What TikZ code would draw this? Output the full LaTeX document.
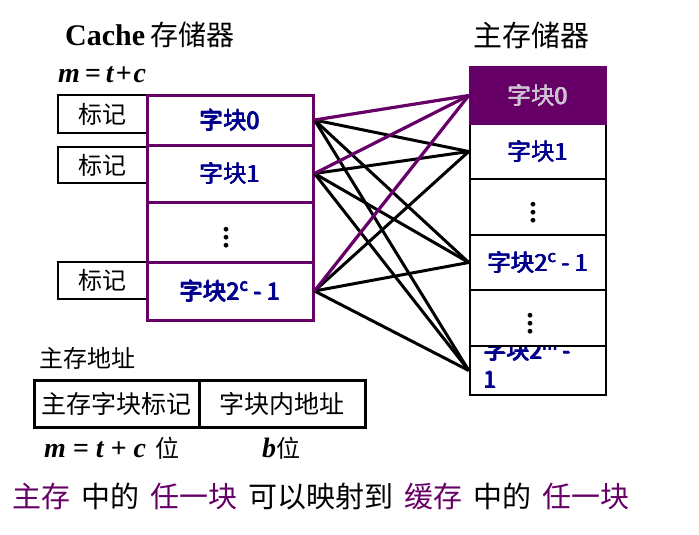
\documentclass[tikz,border=0pt]{standalone}
\usepackage{fontspec}
\setmainfont{Liberation Serif}
\newfontfamily\cjk{Noto Sans CJK SC}
\definecolor{cpurple}{RGB}{102,0,102}
\definecolor{cblue}{RGB}{0,0,140}
\definecolor{clight}{RGB}{205,195,210}
\newcommand{\bigdots}{\scalebox{2}{$\vdots$}}
\newcommand{\notegap}{\hspace{11pt}}
\newcommand{\heavy}[1]{\leavevmode\rlap{\kern.8pt#1}\rlap{\kern.4pt\raisebox{.5pt}{#1}}\rlap{\kern.4pt\raisebox{-.4pt}{#1}}#1\kern.8pt}

\begin{document}
\begin{tikzpicture}
        [x=1pt,y=-1pt,
         tagbox/.style={draw,line width=2.5pt,minimum width=89pt,inner sep=0,font=\cjk\fontsize{24}{26}\selectfont},
         cblk/.style={draw=cpurple,line width=3pt,fill=white,minimum width=166pt,inner sep=0,text=cblue,font=\cjk\fontsize{23.5}{26}\selectfont},
         mblk/.style={draw,line width=2.5pt,fill=white,minimum width=136pt,inner sep=0,text=cblue,font=\cjk\fontsize{23.5}{26}\selectfont},
         dots/.style={text=black,font=\fontsize{20}{22}\selectfont},
         addr/.style={draw,line width=3pt,minimum height=47pt,inner sep=0,font=\cjk\fontsize{25}{27}\selectfont},
         txt/.style={inner sep=0,font=\cjk\fontsize{24}{26}\selectfont},
         blk/.style={line width=3pt},
         hit/.style={cpurple,line width=3.2pt}]

        \useasboundingbox (0,0) rectangle (699,535);

        % titles
        \node[txt,anchor=west] (title) at (65,35) {{\rmfamily\bfseries\fontsize{30}{32}\selectfont Cache} \fontsize{28}{30}\selectfont 存储器};
        \node[txt,anchor=west] (mtc) at (58,75) {\rmfamily\bfseries\itshape\fontsize{28}{30}\selectfont m\kern5pt=\kern5pt t\kern2pt+\kern2pt c};
        \node[txt,font=\cjk\fontsize{29}{31}\selectfont] (mtitle) at (531,35) {主存储器};

        % tags
        \node[tagbox,minimum height=38pt] (t0) at (102.5,114) {标记};
        \node[tagbox,minimum height=36pt] (t1) at (102.5,165) {标记};
        \node[tagbox,minimum height=37pt] (t3) at (102.5,280.5) {标记};

        % cache blocks
        \node[cblk,minimum height=50pt] (c0) at (230,120) {\heavy{字块0}};
        \node[cblk,minimum height=57pt] (c1) at (230,173.5) {\heavy{字块1}};
        \node[cblk,minimum height=60pt,dots] (c2) at (230,232) {\hspace{-8pt}\bigdots};
        \node[cblk,minimum height=58pt] (c3) at (230,291) {\heavy{字块2\textsuperscript{c} - 1}};

        % main memory blocks
        \node[mblk,minimum height=49pt] (m5) at (538,370.5) {};
        \node[txt,anchor=north west,align=left,text=cblue,font=\cjk\fontsize{23}{29}\selectfont] (m5t) at (483,339) {\heavy{字块2\textsuperscript{m} -}\\\heavy{1}};
        \node[mblk,minimum height=56pt,dots] (m4) at (538,318) {\hspace{-16pt}\bigdots};
        \node[mblk,minimum height=55pt] (m3) at (538,262.5) {\heavy{字块2\textsuperscript{c} - 1}};
        \node[mblk,minimum height=56pt,dots] (m2) at (538,207) {\hspace{-10pt}\bigdots};
        \node[mblk,minimum height=55pt] (m1) at (538,151.5) {\heavy{字块1}};
        \node[mblk,minimum height=57pt,draw=cpurple,fill=cpurple,text=clight] (m0) at (538,95.5) {\heavy{字块0}};

        \draw[blk] (c0.east) -- (m1.west);
        \draw[blk] (c0.east) -- (m3.west);
        \draw[blk] (c0.east) -- (m5.west);
        \draw[blk] (c1.east) -- (m1.west);
        \draw[blk] (c1.east) -- (m3.west);
        \draw[blk] (c1.east) -- (m5.west);
        \draw[blk] (c3.east) -- (m1.west);
        \draw[blk] (c3.east) -- (m3.west);
        \draw[blk] (c3.east) -- (m5.west);
        \draw[hit] (c0.east) -- (m0.west);
        \draw[hit] (c1.east) -- (m0.west);
        \draw[hit] (c3.east) -- (m0.west);

        % address
        \node[txt,anchor=west] (atitle) at (39,358) {主存地址};
        \node[addr,minimum width=165pt] (a1) at (116.5,403.5) {主存字块标记};
        \node[addr,minimum width=166pt] (a2) at (282,403.5) {字块内地址};
        \node[txt,anchor=west] (abits) at (44,448) {{\rmfamily\bfseries\itshape\fontsize{28}{30}\selectfont m\kern7pt=\kern7pt t\kern7pt+\kern7pt c}\hspace{9pt}位};
        \node[txt,anchor=west] (bbits) at (262,448) {{\rmfamily\bfseries\itshape\fontsize{28}{30}\selectfont b}位};

        % note
        \node[txt,anchor=west,font=\cjk\fontsize{29}{31}\selectfont] (note) at (12,497)
          {\textcolor{cpurple}{主存}\notegap 中的\notegap\textcolor{cpurple}{任一块}\notegap 可以映射到\notegap\textcolor{cpurple}{缓存}\notegap 中的\notegap\textcolor{cpurple}{任一块}};
      \end{tikzpicture}
\end{document}
